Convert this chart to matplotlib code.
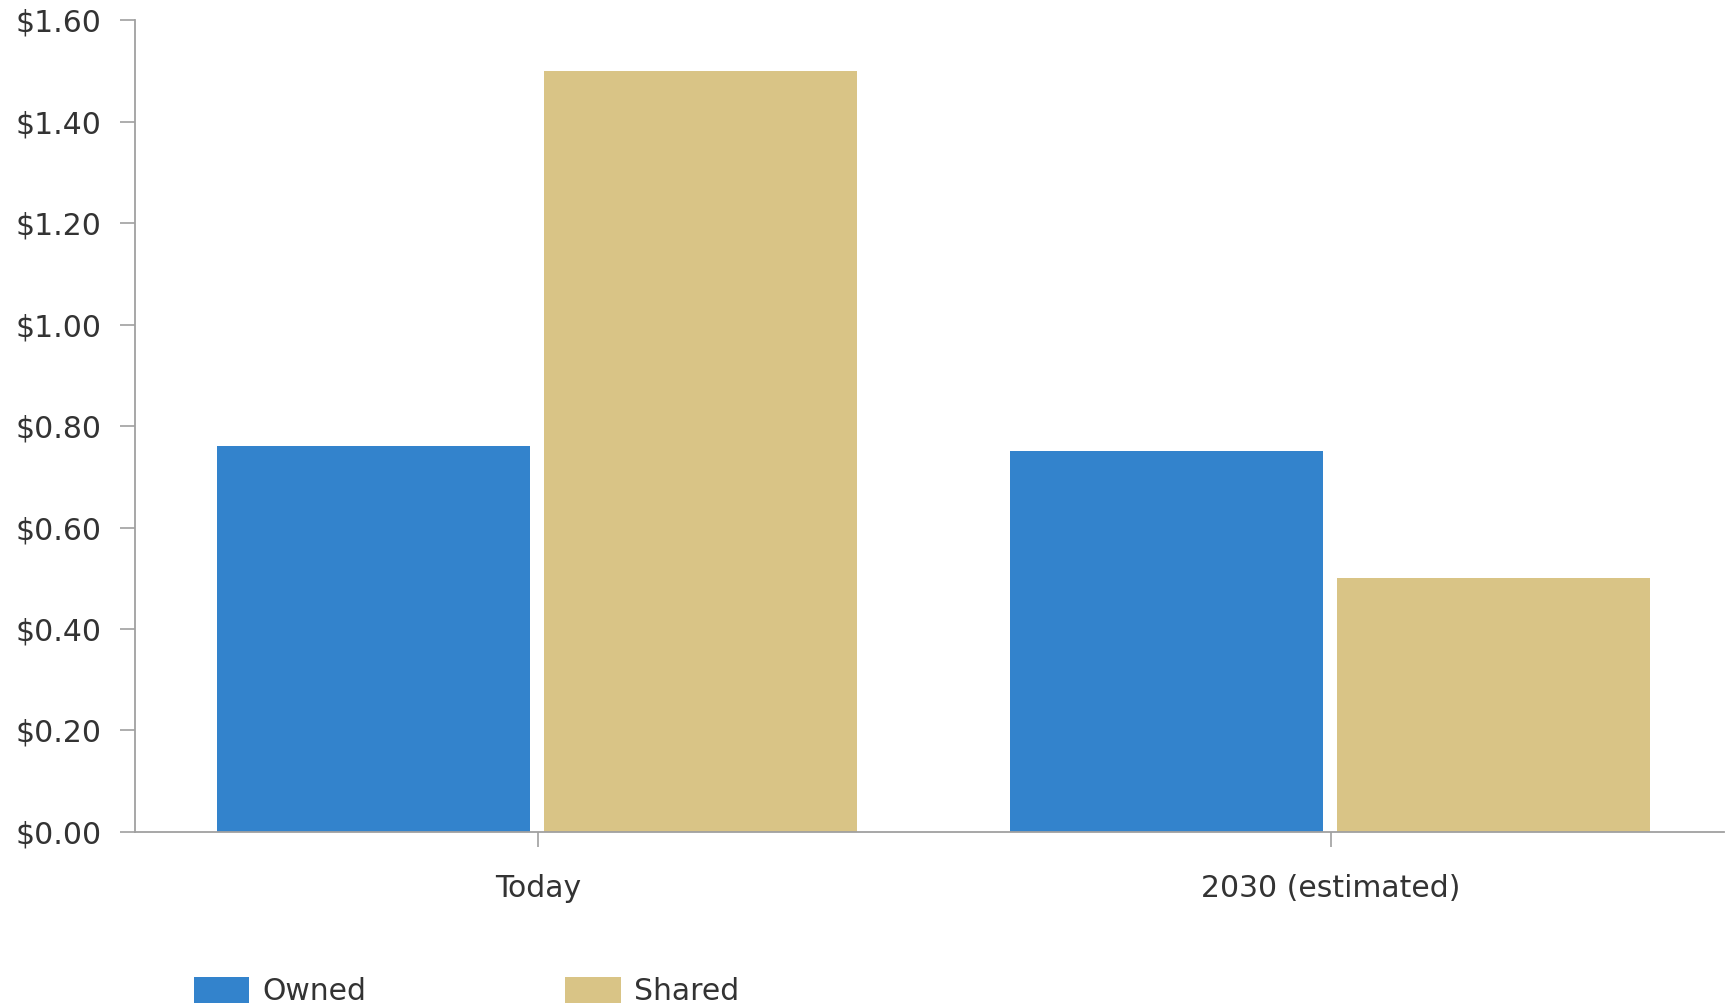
import numpy as np
import matplotlib
matplotlib.use('Agg')
import matplotlib.pyplot as plt

# Cost comparison: owned vs shared, today and 2030

categories = ['Today', '2030 (estimated)']
owned = [0.76, 0.75]
shared = [1.50, 0.50]
y_ticks = [0.0, 0.2, 0.4, 0.6, 0.8, 1.0, 1.2, 1.4, 1.6]

blue = '#3383cc'
gold = '#d9c486'
axis_grey = '#a0a0a0'
text_col = '#333333'

plt.rcParams['font.family'] = ['DejaVu Sans']

fig = plt.figure(figsize=(17.32, 10.06), dpi=100)
ax = fig.add_axes([0.078, 0.173, 0.9175, 0.807])

x = np.arange(len(categories))
w = 0.395
ax.bar(x - 0.207, owned, width=w, color=blue, label='Owned')
ax.bar(x + 0.205, shared, width=w, color=gold, label='Shared')

ax.set_xlim(-0.508, 1.496)
ax.set_ylim(0, 1.6)
ax.set_yticks(y_ticks)
ax.set_yticklabels([f'${v:.2f}' for v in y_ticks])
ax.set_xticks(x)
ax.set_xticklabels(categories)

for s in ['top', 'right']:
    ax.spines[s].set_visible(False)
for s in ['left', 'bottom']:
    ax.spines[s].set_color(axis_grey)
    ax.spines[s].set_linewidth(1.3)

ax.tick_params(axis='y', length=11, width=1.2, color=axis_grey, pad=13,
               labelsize=21.5, labelcolor=text_col)
ax.tick_params(axis='x', length=11, width=1.2, color=axis_grey, pad=19,
               labelsize=21.5, labelcolor=text_col)

fig.legend(loc='lower left', bbox_to_anchor=(0.100, -0.021), ncol=2, frameon=False,
           fontsize=21.5, handlelength=1.85, handleheight=0.95, handletextpad=0.45,
           columnspacing=6.65, borderpad=0.2, labelcolor=text_col)

fig.savefig('out.png', dpi=100)
